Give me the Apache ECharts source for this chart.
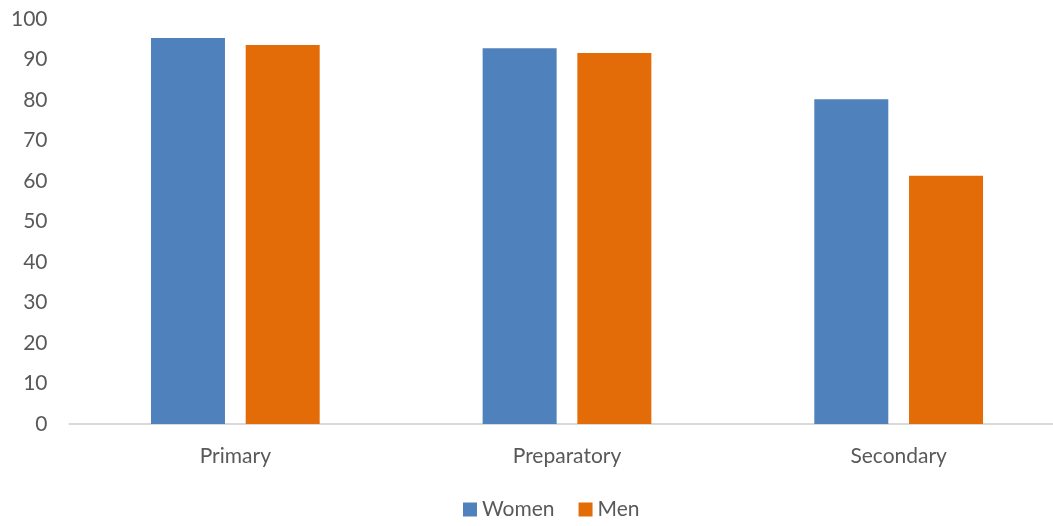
<!DOCTYPE html>
<html>
<head>
<meta charset="utf-8">
<script src="https://cdn.jsdelivr.net/npm/echarts@6/dist/echarts.min.js"></script>
<style>html,body{margin:0;padding:0;background:#fff}#c{width:1053px;height:526px}</style>
</head>
<body>
<div id="c"></div>
<script>
const categories = ['Primary', 'Preparatory', 'Secondary'];
const women = [95.3, 92.8, 80.2];
const men = [93.6, 91.6, 61.3];
const seriesNames = ['Women', 'Men'];

const chart = echarts.init(document.getElementById('c'), null, {renderer: 'canvas'});
const font = 'Lato, "Open Sans", sans-serif';
chart.setOption({
  animation: false,
  grid: {left: 69.5, width: 995, top: 19, bottom: 102, containLabel: false, outerBoundsMode: 'none'},
  legend: {
    data: seriesNames,
    bottom: 1,
    left: 458,
    icon: 'rect',
    itemWidth: 14,
    itemHeight: 14,
    itemGap: 24,
    itemStyle: {borderWidth: 0},
    textStyle: {color: '#595959', fontSize: 21, fontFamily: font}
  },
  xAxis: {
    type: 'category',
    data: categories,
    axisLine: {lineStyle: {color: '#D9D9D9', width: 2}},
    axisTick: {show: false},
    axisLabel: {color: '#595959', fontSize: 21, fontFamily: font, margin: 22}
  },
  yAxis: {
    type: 'value',
    min: 0, max: 100, interval: 10,
    axisLine: {show: false},
    axisTick: {show: false},
    splitLine: {show: false},
    axisLabel: {color: '#595959', fontSize: 21, fontFamily: font, margin: 22}
  },
  series: [
    {name: 'Women', type: 'bar', data: women, barWidth: 74, barGap: '28%',
     itemStyle: {color: '#4F81BD'}},
    {name: 'Men', type: 'bar', data: men, barWidth: 74,
     itemStyle: {color: '#E36C09'}}
  ]
});
</script>
</body>
</html>
